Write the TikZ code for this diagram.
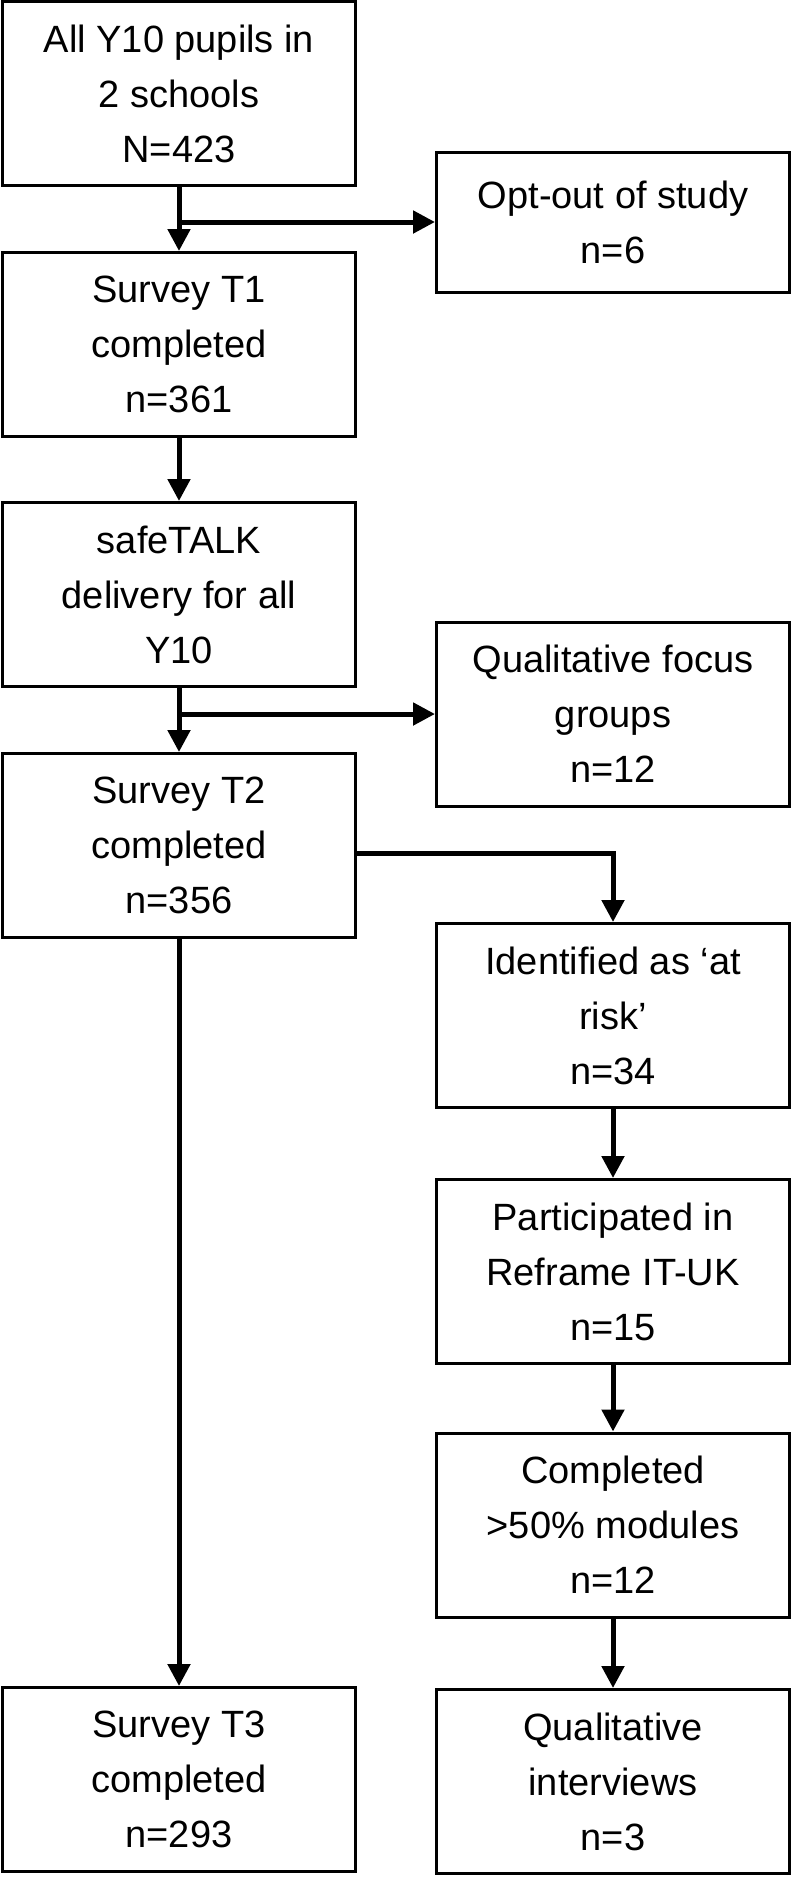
\documentclass[tikz,border=0pt]{standalone}
\usepackage{fontspec}
\setmainfont{Liberation Sans}
\usetikzlibrary{arrows.meta, positioning, calc}

\begin{document}
\begin{tikzpicture}[x=0.5pt, y=-0.5pt,
    flowbox/.style={rectangle, draw=black, line width=1.5pt, fill=white,
        minimum width=176.5pt, minimum height=92pt, align=center,
        font=\fontsize{19}{27.5}\selectfont, inner sep=2pt},
    arrow/.style={-{Triangle[length=11pt, width=11pt]}, line width=2.5pt, black}
]
    \useasboundingbox (0,0) rectangle (800,1886);

    % left column
    \node[flowbox] (pupils) at (179, 93.5)  {All Y10 pupils in\\2 schools\\N=423};
    \node[flowbox] (surveyA) at (179, 344.5) {Survey T1\\completed\\n=361};
    \node[flowbox] (safetalk) at (179, 594.5) {safeTALK\\delivery for all\\Y10};
    \node[flowbox] (surveyB) at (179, 845.5) {Survey T2\\completed\\n=356};
    \node[flowbox] (surveyC) at (179, 1779.5) {Survey T3\\completed\\n=293};

    % right column
    \node[flowbox, minimum height=70pt] (optout) at (613, 222) {Opt-out of study\\n=6};
    \node[flowbox] (focus)   at (613, 714)    {Qualitative focus\\groups\\n=12};
    \node[flowbox] (atrisk)  at (613, 1015.5) {Identified as `at\\risk'\\n=34};
    \node[flowbox] (reframe) at (613, 1271.5) {Participated in\\Reframe IT-UK\\n=15};
    \node[flowbox] (modules) at (613, 1525)   {Completed\\>50\% modules\\n=12};
    \node[flowbox] (interv)  at (613, 1781.5) {Qualitative\\interviews\\n=3};

    \coordinate (splitA) at (pupils.south |- optout.west);
    \coordinate (splitB) at (safetalk.south |- focus.west);

    \draw[arrow] (pupils)   -- (surveyA);
    \draw[arrow] (splitA)   -- (optout.west);
    \draw[arrow] (surveyA)  -- (safetalk);
    \draw[arrow] (safetalk) -- (surveyB);
    \draw[arrow] (splitB)   -- (focus.west);
    \draw[arrow] ([yshift=-4pt]surveyB.east) -| (atrisk.north);
    \draw[arrow] (surveyB)  -- (surveyC);
    \draw[arrow] (atrisk)   -- (reframe);
    \draw[arrow] (reframe)  -- (modules);
    \draw[arrow] (modules)  -- (interv);
\end{tikzpicture}
\end{document}
